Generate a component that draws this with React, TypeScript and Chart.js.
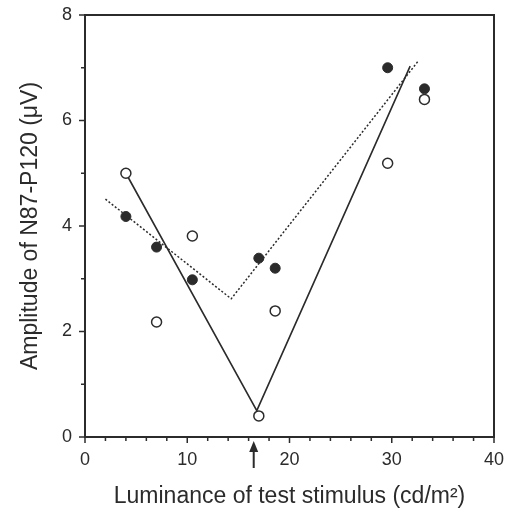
import React, { useEffect, useRef } from "react";
import { Chart, registerables } from "chart.js";

Chart.register(...registerables);

// Data
const closedX = [4, 7, 10.5, 17, 18.6, 29.6, 33.2];
const closedY = [4.18, 3.6, 2.98, 3.39, 3.2, 7.0, 6.6];
const openX = [4, 7, 10.5, 17, 18.6, 29.6, 33.2];
const openY = [5.0, 2.18, 3.81, 0.4, 2.39, 5.19, 6.4];
const solidFitX = [4, 16.8, 31.8];
const solidFitY = [5.0, 0.5, 7.03];
const dottedFitX = [2, 14.3, 32.6];
const dottedFitY = [4.51, 2.62, 7.13];
const arrowX = 16.5;
const xTickLabels = [0, 10, 20, 30, 40];
const yTickLabels = [0, 2, 4, 6, 8];

const toPts = (xs: number[], ys: number[]) => xs.map((x, i) => ({ x, y: ys[i] }));

const INK = "#2b2b2b";
const FONT = "'Liberation Sans', Arial, sans-serif";

const framePlugin = {
  id: "frame",
  afterDraw(chart: any) {
    const { ctx, chartArea: a, scales } = chart;
    ctx.save();
    ctx.strokeStyle = INK;
    ctx.lineWidth = 2;
    ctx.strokeRect(a.left, a.top, a.right - a.left, a.bottom - a.top);
    // tick marks
    ctx.lineWidth = 1.5;
    const xs = scales.x;
    xs.ticks.forEach((t: any) => {
      const px = xs.getPixelForValue(t.value);
      const major = xTickLabels.includes(t.value);
      ctx.beginPath();
      ctx.moveTo(px, a.bottom);
      ctx.lineTo(px, a.bottom + (major ? 6 : 4));
      ctx.stroke();
    });
    const ys = scales.y;
    ys.ticks.forEach((t: any) => {
      const py = ys.getPixelForValue(t.value);
      const major = yTickLabels.includes(t.value);
      ctx.beginPath();
      ctx.moveTo(a.left, py);
      ctx.lineTo(a.left - (major ? 6 : 4), py);
      ctx.stroke();
    });
    // arrow marking the test luminance
    const ax = xs.getPixelForValue(arrowX);
    const tipY = a.bottom + 4;
    ctx.lineWidth = 2;
    ctx.beginPath();
    ctx.moveTo(ax, tipY + 8);
    ctx.lineTo(ax, tipY + 27);
    ctx.stroke();
    ctx.fillStyle = INK;
    ctx.beginPath();
    ctx.moveTo(ax, tipY);
    ctx.lineTo(ax - 4.5, tipY + 11);
    ctx.lineTo(ax + 4.5, tipY + 11);
    ctx.closePath();
    ctx.fill();
    ctx.restore();
  },
};

export default function App() {
  const ref = useRef<HTMLCanvasElement | null>(null);
  useEffect(() => {
    if (!ref.current) return;
    const chart = new Chart(ref.current, {
      type: "scatter",
      data: {
        datasets: [
          {
            label: "closed",
            data: toPts(closedX, closedY),
            pointRadius: 5,
            pointBackgroundColor: INK,
            pointBorderColor: INK,
            pointBorderWidth: 1,
            order: 0,
          },
          {
            label: "open",
            data: toPts(openX, openY),
            pointRadius: 5,
            pointBackgroundColor: "#ffffff",
            pointBorderColor: INK,
            pointBorderWidth: 1.5,
            order: 1,
          },
          {
            label: "solid fit",
            data: toPts(solidFitX, solidFitY),
            showLine: true,
            pointRadius: 0,
            borderColor: INK,
            borderWidth: 1.6,
            order: 2,
          },
          {
            label: "dotted fit",
            data: toPts(dottedFitX, dottedFitY),
            showLine: true,
            pointRadius: 0,
            borderColor: INK,
            borderWidth: 1.5,
            borderDash: [2, 2],
            order: 3,
          },
        ] as any,
      },
      options: {
        animation: false,
        responsive: false,
        events: [],
        layout: { padding: { left: 0, right: 12, top: 15, bottom: 0 } },
        plugins: { legend: { display: false }, tooltip: { enabled: false } },
        scales: {
          x: {
            type: "linear",
            min: 0,
            max: 40,
            grid: { display: false, drawTicks: false },
            border: { display: false },
            ticks: {
              stepSize: 2,
              padding: 12,
              color: INK,
              font: { family: FONT, size: 18 },
              maxRotation: 0,
              autoSkip: false,
              callback: (v: any) => (xTickLabels.includes(v) ? String(v) : ""),
            },
            title: {
              display: true,
              text: "Luminance of test stimulus (cd/m²)",
              color: INK,
              font: { family: FONT, size: 23, lineHeight: 1 },
              padding: { top: 0, bottom: 0 },
            },
            afterFit: (s: any) => {
              s.height = 71;
              s.paddingLeft = 0;
              s.paddingRight = 0;
            },
          },
          y: {
            type: "linear",
            min: 0,
            max: 8,
            grid: { display: false, drawTicks: false },
            border: { display: false },
            ticks: {
              stepSize: 1,
              padding: 13,
              color: INK,
              font: { family: FONT, size: 18 },
              autoSkip: false,
              callback: (v: any) => (yTickLabels.includes(v) ? String(v) : ""),
            },
            title: {
              display: true,
              text: "Amplitude of N87-P120 (μV)",
              color: INK,
              font: { family: FONT, size: 23, lineHeight: 1 },
              padding: { top: 19, bottom: 0 },
            },
            afterFit: (s: any) => {
              s.width = 85;
              s.paddingTop = 0;
              s.paddingBottom = 0;
            },
          },
        },
      },
      plugins: [framePlugin],
    });
    return () => chart.destroy();
  }, []);
  return (
    <div style={{ position: "absolute", left: 0, top: 0, width: 506, height: 508, background: "#fff" }}>
      <canvas ref={ref} width={506} height={508} style={{ display: "block" }} />
    </div>
  );
}
